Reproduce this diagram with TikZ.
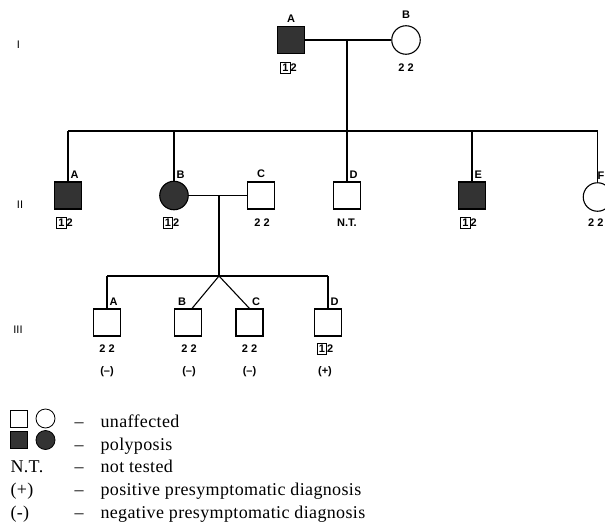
\documentclass[tikz,border=0pt]{standalone}
\usepackage{fontspec}
\newfontfamily\pedfont{Liberation Sans}
\newfontfamily\legfont{Liberation Serif}[LetterSpace=2]
\usetikzlibrary{positioning}
\newcommand{\hapone}{{\setlength{\fboxsep}{1.3pt}\setlength{\fboxrule}{0.8pt}\fbox{1}}2}
\begin{document}
\begin{tikzpicture}[x=1pt, y=-1pt, line width=1.1pt,
		male/.style={draw, rectangle, minimum size=27pt, inner sep=0pt},
		female/.style={draw, circle, minimum size=28.5pt, inner sep=0pt},
		ill/.style={fill=black!80},
		lab/.style={font=\pedfont\bfseries\fontsize{11}{13}\selectfont, inner sep=0pt},
		gen/.style={font=\pedfont\fontsize{11}{13}\selectfont, inner sep=0pt},
		tag/.style={label={[lab, anchor=south west, xshift=2pt, yshift=2pt]north:#1}},
		ltag/.style={label={[lab, anchor=south east, xshift=-1.5pt, yshift=2pt]north:#1}},
		ctag/.style={label={[lab, label distance=3pt]north:#1}},
		leg/.style={font=\legfont\fontsize{18}{22}\selectfont, inner sep=0pt, anchor=base west},
		key/.style={draw, line width=0.8pt, inner sep=0pt}]
	\useasboundingbox (0,0) rectangle (605,522);
	\clip (0,0) rectangle (605,522);
	
	% Thế hệ
	\node[gen] (gI) at (18.5,45) {I};
	\node[gen] (gII) at (20,205) {II};
	\node[gen] (gIII) at (18,330) {III};
	
	% Thế hệ I
	\node[male, ill, ctag=A] (IA) at (291,40) {};
	\node[female, label={[lab, label distance=6pt]north:B}] (IB) at (406,40) {};
	\coordinate (Imid) at (347,40);
	\coordinate (Isib) at (347,131);
	\coordinate (s1) at (68,131);
	\coordinate (s2) at (174,131);
	\coordinate (s4) at (472,131);
	\coordinate (s5) at (597.5,131);
	
	% Thế hệ II
	\node[male, ill, tag=A] (IIA) at (68,195.5) {};
	\node[female, ill, tag=B] (IIB) at (174,195.5) {};
	\node[male, ctag=C] (IIC) at (261,195.5) {};
	\node[male, tag=D] (IID) at (347,195.5) {};
	\node[male, ill, tag=E] (IIE) at (472,195.5) {};
	\node[female, label={[lab, anchor=south east, xshift=7.5pt, yshift=2pt]north:F}] (IIF) at (597.5,197) {};
	\coordinate (IImid) at (219,195.5);
	\coordinate (IIsib) at (219,276);
	\coordinate (t1) at (107,276);
	\coordinate (t4) at (328,276);
	
	% Thế hệ III
	\node[male, tag=A] (IIIA) at (107,322.5) {};
	\node[male, ltag=B] (IIIB) at (188,322.5) {};
	\node[male, tag=C] (IIIC) at (249.5,322.5) {};
	\node[male, tag=D] (IIID) at (328,322.5) {};
	
	% Các đường nối
	\draw (IA) -- (IB);
	\draw (Imid) -- (Isib);
	\draw (s1) -- (s5);
	\draw (s1) -- (IIA);
	\draw (s2) -- (IIB);
	\draw (Isib) -- (IID);
	\draw (s4) -- (IIE);
	\draw (s5) -- (IIF);
	\draw (IIB) -- (IIC);
	\draw (IImid) -- (IIsib);
	\draw (t1) -- (t4);
	\draw (t1) -- (IIIA);
	\draw (t4) -- (IIID);
	\draw ([xshift=4pt]IIIB.north) -- (IIsib) -- (IIIC.north);
	
	% Kiểu gen
	\node[lab] (hIA) at (288.5,68) {\hapone};
	\node[lab] (hIB) at (406,68) {2 2};
	\node[lab] (hIIA) at (64.5,223) {\hapone};
	\node[lab] (hIIB) at (171,223) {\hapone};
	\node[lab] (hIIC) at (262,223) {2 2};
	\node[lab] (hIID) at (347,223) {N.T.};
	\node[lab] (hIIE) at (468.5,223) {\hapone};
	\node[lab, anchor=east] (hIIF) at (604,223) {2 2};
	\node[lab] (hIIIA) at (107,349) {2 2};
	\node[lab] (hIIIB) at (189,349) {2 2};
	\node[lab] (hIIIC) at (249.5,349) {2 2};
	\node[lab] (hIIID) at (325,349) {\hapone};
	\node[lab] (dIIIA) at (107,372) {(–)};
	\node[lab] (dIIIB) at (189,372) {(–)};
	\node[lab] (dIIIC) at (249.5,372) {(–)};
	\node[lab] (dIIID) at (325,372) {(+)};
	
	% Chú thích
	\node[key, minimum size=17pt] (kM) at (18.5,418.5) {};
	\node[key, circle, minimum size=19pt] (kF) at (45.5,418.5) {};
	\node[key, ill, minimum size=17pt] (kMi) at (18.5,440) {};
	\node[key, ill, circle, minimum size=19pt] (kFi) at (45.5,440) {};
	\node[leg] (nNT) at (10,472) {N.T.};
	\node[leg] (nPos) at (10,495) {(+)};
	\node[leg] (nNeg) at (10,518) {(-)};
	\node[leg] (d1) at (74,427) {–};
	\node[leg] (d2) at (74,450) {–};
	\node[leg] (d3) at (74,472) {–};
	\node[leg] (d4) at (74,495) {–};
	\node[leg] (d5) at (74,518) {–};
	\node[leg] (t1) at (100,427) {unaffected};
	\node[leg] (t2) at (100,450) {polyposis};
	\node[leg] (t3) at (100,472) {not tested};
	\node[leg] (t4) at (100,495) {positive presymptomatic diagnosis};
	\node[leg] (t5) at (100,518) {negative presymptomatic diagnosis};
\end{tikzpicture}
\end{document}
